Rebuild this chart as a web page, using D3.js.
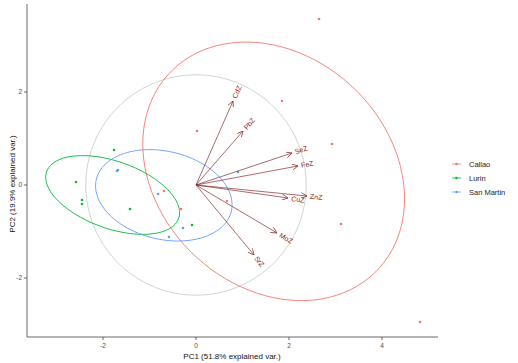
<!DOCTYPE html>
<html>
<head>
<meta charset="utf-8">
<script src="https://cdn.jsdelivr.net/npm/d3@7"></script>
<style>
   body { margin: 0; background: #fff; }
   text { font-family: "Liberation Sans", Arial, sans-serif; }
</style>
</head>
<body>
<div id="svgContainer"></div>
<script>

   var SVG_WIDTH = 518; // svg width
   var SVG_HEIGHT = 363; // svg height
   var POINT_R = 1.3; // radius of sample points
   var ELLIPSE_PROB = 0.68; // normal ellipse probability

   // groups and colours
   var groups = ['Callao', 'Lurin', 'San Martin'];
   var groupColors = ['#F8766D', '#00BA38', '#619CFF'];

   // PC scores per group (PC1, PC2)
   var callaoPC1 = [2.645, 1.849, 0.022, 2.925, 3.118, 4.817, 0.667, -0.688, -0.323];
   var callaoPC2 = [3.570, 1.806, 1.161, 0.882, -0.839, -2.946, -0.344, -0.129, -0.516];
   var lurinPC1 = [-1.763, -2.581, -2.452, -2.452, -1.419, -0.086];
   var lurinPC2 = [0.753, 0.065, -0.323, -0.409, -0.516, -0.860];
   var sanMartinPC1 = [-1.699, -1.677, -0.817, -0.280, -0.581, 0.903];
   var sanMartinPC2 = [0.301, 0.323, -0.194, -0.925, -1.118, 0.280];

   // variable loadings (arrows)
   var varNames = ['CdZ', 'PbZ', 'SeZ', 'FeZ', 'ZnZ', 'CuZ', 'MoZ', 'SrZ'];
   var varPC1 = [0.796, 1.011, 2.065, 2.194, 2.387, 1.978, 1.742, 1.247];
   var varPC2 = [1.806, 1.161, 0.688, 0.409, -0.237, -0.280, -1.032, -1.505];

   // correlation circle radius
   var circleRadius = 2.37;

   // axes
   var xTicks = [-2, 0, 2, 4];
   var yTicks = [-2, 0, 2];
   var xTitle = 'PC1 (51.8% explained var.)';
   var yTitle = 'PC2 (19.9% explained var.)';

   var groupData = [
      {name: groups[0], color: groupColors[0], x: callaoPC1, y: callaoPC2},
      {name: groups[1], color: groupColors[1], x: lurinPC1, y: lurinPC2},
      {name: groups[2], color: groupColors[2], x: sanMartinPC1, y: sanMartinPC2}
   ];

   var xScale = d3.scaleLinear().domain([-3.634, 5.204]).range([27, 438]);
   var yScale = d3.scaleLinear().domain([-3.269, 3.892]).range([337, 4]);

   var svg = d3.select('#svgContainer')
      .append('svg')
      .attr('width', SVG_WIDTH)
      .attr('height', SVG_HEIGHT);

   var line = d3.line()
      .x(function(d){ return xScale(d[0]); })
      .y(function(d){ return yScale(d[1]); });

   // grey circle round origin
   var circlePts = d3.range(0, 101).map(function(i){
      var t = i / 100 * 2 * Math.PI;
      return [circleRadius * Math.cos(t), circleRadius * Math.sin(t)];
   });
   svg.append('path')
      .attr('d', line(circlePts))
      .attr('fill', 'none')
      .attr('stroke', '#c6d3ca')
      .attr('stroke-width', 0.9);

   // normal data ellipse for a group (mean + chol(cov) * circle)
   function ellipsePoints(xs, ys){
      var n = xs.length;
      var mx = d3.mean(xs), my = d3.mean(ys);
      var sxx = 0, syy = 0, sxy = 0;
      for(var i = 0; i < n; i++){
         sxx += (xs[i] - mx) * (xs[i] - mx);
         syy += (ys[i] - my) * (ys[i] - my);
         sxy += (xs[i] - mx) * (ys[i] - my);
      }
      sxx /= (n - 1); syy /= (n - 1); sxy /= (n - 1);
      var r11 = Math.sqrt(sxx);
      var r12 = sxy / r11;
      var r22 = Math.sqrt(syy - r12 * r12);
      var ed = Math.sqrt(-2 * Math.log(1 - ELLIPSE_PROB));
      return d3.range(0, 101).map(function(k){
         var t = k / 100 * 2 * Math.PI;
         var c = Math.cos(t), s = Math.sin(t);
         return [mx + ed * c * r11, my + ed * (c * r12 + s * r22)];
      });
   }

   groupData.forEach(function(g){
      svg.append('path')
         .attr('d', line(ellipsePoints(g.x, g.y)))
         .attr('fill', 'none')
         .attr('stroke', g.color)
         .attr('stroke-width', 0.9);
   });

   // sample points
   groupData.forEach(function(g){
      svg.append('g')
         .selectAll('circle')
         .data(g.x)
         .enter()
         .append('circle')
            .attr('cx', function(d){ return xScale(d); })
            .attr('cy', function(d, i){ return yScale(g.y[i]); })
            .attr('r', POINT_R)
            .attr('fill', g.color);
   });

   // arrow marker
   svg.append('defs').append('marker')
      .attr('id', 'arrowHead')
      .attr('viewBox', '0 0 10 10')
      .attr('refX', 10)
      .attr('refY', 5)
      .attr('markerWidth', 6)
      .attr('markerHeight', 6)
      .attr('markerUnits', 'userSpaceOnUse')
      .attr('orient', 'auto')
      .append('path')
         .attr('d', 'M0,0 L10,5 L0,10')
         .attr('fill', 'none')
         .attr('stroke', '#8a2b2b')
         .attr('stroke-width', 1.2);

   var arrows = svg.append('g');
   varNames.forEach(function(name, i){
      arrows.append('line')
         .attr('x1', xScale(0))
         .attr('y1', yScale(0))
         .attr('x2', xScale(varPC1[i]))
         .attr('y2', yScale(varPC2[i]))
         .attr('stroke', '#8a2b2b')
         .attr('stroke-width', 0.7)
         .attr('marker-end', 'url(#arrowHead)');
   });

   // variable labels along the arrows
   varNames.forEach(function(name, i){
      var ang = -Math.atan2(varPC2[i], varPC1[i]) * 180 / Math.PI;
      var px = xScale(varPC1[i]), py = yScale(varPC2[i]);
      var t = arrows.append('text')
         .attr('transform', 'translate(' + px + ',' + py + ') rotate(' + ang + ')')
         .attr('dy', '0.35em')
         .attr('font-size', 7)
         .attr('fill', '#8b1a1a')
         .text(name);
      var w = t.node().getComputedTextLength();
      t.attr('x', w * 0.25);
   });

   // axes lines
   svg.append('line')
      .attr('x1', 27).attr('x2', 438)
      .attr('y1', 337).attr('y2', 337)
      .attr('stroke', '#444').attr('stroke-width', 0.8);
   svg.append('line')
      .attr('x1', 27).attr('x2', 27)
      .attr('y1', 4).attr('y2', 337)
      .attr('stroke', '#444').attr('stroke-width', 0.8);

   // x ticks
   var xt = svg.append('g');
   xTicks.forEach(function(v){
      xt.append('line')
         .attr('x1', xScale(v)).attr('x2', xScale(v))
         .attr('y1', 337).attr('y2', 340)
         .attr('stroke', '#444').attr('stroke-width', 0.8);
      xt.append('text')
         .attr('x', xScale(v)).attr('y', 348)
         .attr('text-anchor', 'middle')
         .attr('font-size', 6.5)
         .attr('fill', '#4d4d4d')
         .text(v < 0 ? '-' + Math.abs(v) : v);
   });

   // y ticks
   var yt = svg.append('g');
   yTicks.forEach(function(v){
      yt.append('line')
         .attr('x1', 24).attr('x2', 27)
         .attr('y1', yScale(v)).attr('y2', yScale(v))
         .attr('stroke', '#444').attr('stroke-width', 0.8);
      yt.append('text')
         .attr('x', 22).attr('y', yScale(v))
         .attr('dy', '0.35em')
         .attr('text-anchor', 'end')
         .attr('font-size', 6.5)
         .attr('fill', '#4d4d4d')
         .text(v < 0 ? '-' + Math.abs(v) : v);
   });

   // axis titles
   svg.append('text')
      .attr('x', 232).attr('y', 359)
      .attr('text-anchor', 'middle')
      .attr('font-size', 8)
      .attr('fill', '#111')
      .text(xTitle);
   svg.append('text')
      .attr('transform', 'translate(12,184) rotate(-90)')
      .attr('dy', '0.35em')
      .attr('text-anchor', 'middle')
      .attr('font-size', 8)
      .attr('fill', '#111')
      .text(yTitle);

   // legend
   var legend = svg.append('g')
      .selectAll('g')
      .data(groupData)
      .enter()
      .append('g')
         .attr('transform', function(d, i){
            return 'translate(452,' + (164 + i * 14) + ')';
         });
   legend.append('line')
      .attr('x1', 0).attr('x2', 9)
      .attr('stroke', function(d){ return d.color; })
      .attr('stroke-width', 0.8);
   legend.append('circle')
      .attr('cx', 4.5).attr('r', POINT_R)
      .attr('fill', function(d){ return d.color; });
   legend.append('text')
      .attr('x', 17)
      .attr('dy', '0.35em')
      .attr('font-size', 7.5)
      .attr('fill', '#222')
      .text(function(d){ return d.name; });

</script>
</body>
</html>
